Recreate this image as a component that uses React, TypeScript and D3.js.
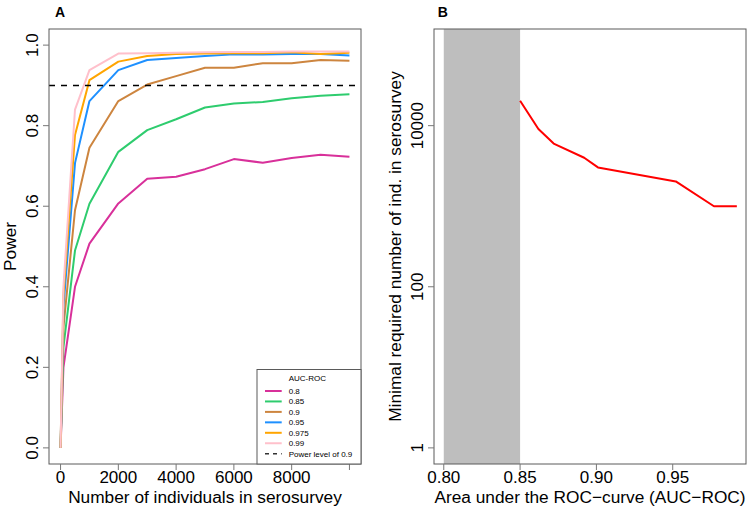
import React from "react";
import * as d3 from "d3";

const sizes = [0, 100, 500, 1000, 2000, 3000, 4000, 5000, 6000, 7000, 8000, 9000, 10000];
const power080 = [0, 0.2, 0.4, 0.507, 0.607, 0.668, 0.673, 0.692, 0.717, 0.708, 0.72, 0.728, 0.723];
const power085 = [0, 0.25, 0.49, 0.606, 0.735, 0.789, 0.816, 0.845, 0.855, 0.859, 0.868, 0.874, 0.878];
const power090 = [0, 0.3, 0.59, 0.745, 0.861, 0.902, 0.923, 0.944, 0.944, 0.955, 0.955, 0.963, 0.961];
const power095 = [0, 0.35, 0.707, 0.861, 0.938, 0.963, 0.968, 0.973, 0.977, 0.977, 0.978, 0.978, 0.974];
const power0975 = [0, 0.38, 0.777, 0.913, 0.959, 0.973, 0.978, 0.979, 0.98, 0.98, 0.982, 0.978, 0.981];
const power099 = [0, 0.4, 0.84, 0.938, 0.979, 0.98, 0.981, 0.982, 0.983, 0.983, 0.984, 0.984, 0.984];

const seriesLabels = ["0.8", "0.85", "0.9", "0.95", "0.975", "0.99"];
const seriesColors = ["#D8309A", "#2ECC6E", "#CD853F", "#1E90FF", "#FFA500", "#FFC0CB"];
const seriesValues = [power080, power085, power090, power095, power0975, power099];
const powerLevel = 0.9;

const xTicksA = [0, 2000, 4000, 6000, 8000, 10000];
const xLabelsA = [0, 2000, 4000, 6000, 8000];
const yTicksA = [0, 0.2, 0.4, 0.6, 0.8, 1.0];

const aucB = [0.85, 0.862, 0.872, 0.892, 0.901, 0.952, 0.977, 0.992];
const minN = [20400, 9100, 6000, 4000, 3030, 2030, 1000, 1000];
const xTicksB = [0.8, 0.85, 0.9, 0.95];
const yTicksB = [1, 100, 10000];
const shadeB = [0.8, 0.85];

const FONT = "'Liberation Sans', Arial, Helvetica, sans-serif";
const BOX = "#5a5a5a";
const TICK = "#777";

export default function App() {
  const top = 29, bottom = 464;
  const xA = d3.scaleLinear().domain([-400, 10400]).range([49, 361]);
  const yA = d3.scaleLinear().domain([-0.04, 1.04]).range([bottom, top]);
  const xB = d3.scaleLinear().domain([0.7936, 0.998]).range([434, 746]);
  const yB = d3.scaleLog().domain([Math.pow(10, -0.2), Math.pow(10, 5.2)]).range([bottom, top]);

  const lineA = d3.line<number>().x((_, i) => xA(sizes[i])).y((d) => yA(d));
  const lineB = d3.line<number>().x((_, i) => xB(aucB[i])).y((d) => yB(d));

  const legX = 257, legY = 369.5, legW = 104, legH = bottom - 369.5;
  const rowY = (i: number) => 391 + i * 10.45;

  return (
    <svg width={750} height={510} style={{ position: "absolute", left: 0, top: 0, background: "#fff" }} fontFamily={FONT}>
      <rect x={0} y={0} width={750} height={510} fill="#fff" />
      {/* Panel A */}
      <text x={55} y={16.7} fontSize={14} fontWeight="bold">A</text>
      {seriesValues.map((vals, i) => (
        <path key={i} d={lineA(vals) || ""} fill="none" stroke={seriesColors[i]} strokeWidth={2} strokeLinejoin="round" />
      ))}
      <line x1={49} x2={361} y1={yA(powerLevel)} y2={yA(powerLevel)} stroke="#000" strokeWidth={1.5} strokeDasharray="6,6" />
      <rect x={49} y={top} width={312} height={bottom - top} fill="none" stroke={BOX} strokeWidth={1} />
      {xTicksA.map((t) => (
        <line key={t} x1={xA(t)} x2={xA(t)} y1={bottom} y2={bottom + 6} stroke={TICK} />
      ))}
      {xLabelsA.map((t) => (
        <text key={t} x={xA(t)} y={483.3} fontSize={17} textAnchor="middle">{t}</text>
      ))}
      {yTicksA.map((t) => (
        <g key={t}>
          <line x1={49 - 6} x2={49} y1={yA(t)} y2={yA(t)} stroke={TICK} />
          <text transform={`translate(38,${yA(t)}) rotate(-90)`} fontSize={17} textAnchor="middle">{t.toFixed(1)}</text>
        </g>
      ))}
      <text x={205} y={503} fontSize={17.3} textAnchor="middle">Number of individuals in serosurvey</text>
      <text transform={`translate(15.7,${(top + bottom) / 2}) rotate(-90)`} fontSize={17.3} textAnchor="middle">Power</text>

      {/* Legend */}
      <rect x={legX} y={legY} width={legW} height={legH} fill="#fff" stroke={BOX} strokeWidth={1} />
      <text x={288.7} y={380.7} fontSize={8}>AUC-ROC</text>
      {seriesLabels.map((lab, i) => (
        <g key={lab}>
          <line x1={265} x2={281.7} y1={rowY(i)} y2={rowY(i)} stroke={seriesColors[i]} strokeWidth={2} />
          <text x={288.7} y={rowY(i) + 2.9} fontSize={8}>{lab}</text>
        </g>
      ))}
      <line x1={265} x2={281.7} y1={rowY(6)} y2={rowY(6)} stroke="#333" strokeWidth={1.5} strokeDasharray="4,4" />
      <text x={288.7} y={rowY(6) + 2.9} fontSize={8}>Power level of 0.9</text>

      {/* Panel B */}
      <text x={437.7} y={16.7} fontSize={14} fontWeight="bold">B</text>
      <rect x={xB(shadeB[0])} y={top} width={xB(shadeB[1]) - xB(shadeB[0])} height={bottom - top} fill="#BEBEBE" />
      <path d={lineB(minN) || ""} fill="none" stroke="#FF0000" strokeWidth={2} strokeLinejoin="round" />
      <rect x={434} y={top} width={312} height={bottom - top} fill="none" stroke={BOX} strokeWidth={1} />
      {xTicksB.map((t) => (
        <g key={t}>
          <line x1={xB(t)} x2={xB(t)} y1={bottom} y2={bottom + 6} stroke={TICK} />
          <text x={xB(t)} y={483.3} fontSize={17} textAnchor="middle">{t.toFixed(2)}</text>
        </g>
      ))}
      {yTicksB.map((t) => (
        <g key={t}>
          <line x1={434 - 6} x2={434} y1={yB(t)} y2={yB(t)} stroke={TICK} />
          <text transform={`translate(423,${yB(t)}) rotate(-90)`} fontSize={17} textAnchor="middle">{t}</text>
        </g>
      ))}
      <text x={590} y={503} fontSize={17.3} textAnchor="middle">Area under the ROC−curve (AUC−ROC)</text>
      <text transform={`translate(400.7,${(top + bottom) / 2}) rotate(-90)`} fontSize={17.3} textAnchor="middle">Minimal required number of ind. in serosurvey</text>
    </svg>
  );
}
